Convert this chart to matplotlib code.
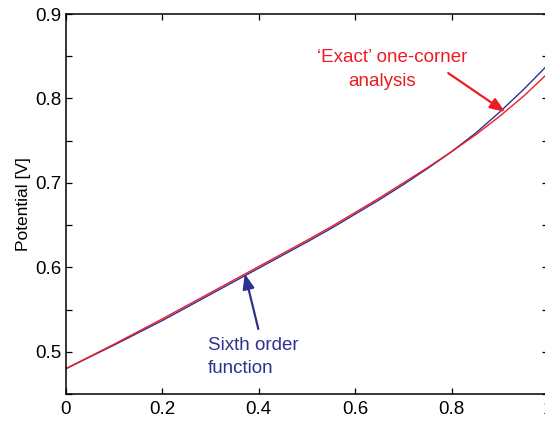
import matplotlib
matplotlib.use('Agg')
import matplotlib.pyplot as plt
from matplotlib.ticker import MultipleLocator

plt.rcParams['font.family'] = ['Liberation Sans', 'DejaVu Sans']

# distance along the edge (normalised) and computed potential
position = [0.00, 0.05, 0.10, 0.15, 0.20, 0.25, 0.30, 0.35, 0.40, 0.45, 0.50,
            0.55, 0.60, 0.65, 0.70, 0.75, 0.80, 0.85, 0.90, 0.95, 1.00]
exact_one_corner = [0.480, 0.4945, 0.509, 0.524, 0.539, 0.5545, 0.570, 0.5855,
                    0.601, 0.6165, 0.632, 0.648, 0.665, 0.682, 0.700, 0.718,
                    0.737, 0.757, 0.779, 0.803, 0.830]
sixth_order = [0.480, 0.494, 0.508, 0.5225, 0.537, 0.5525, 0.568, 0.5835,
               0.599, 0.6145, 0.630, 0.646, 0.663, 0.680, 0.698, 0.717,
               0.737, 0.759, 0.784, 0.811, 0.840]

x_ticks = [0, 0.2, 0.4, 0.6, 0.8, 1]
y_ticks = [0.5, 0.6, 0.7, 0.8, 0.9]

RED = '#ed1c24'
BLUE = '#2e3192'


def main():
  fig = plt.figure(figsize=(5.45, 4.23), dpi=100)
  ax = fig.add_axes([0.1211, 0.0686, 0.8844, 0.8983])

  ax.plot(position, sixth_order, color=BLUE, lw=1.0)
  ax.plot(position, exact_one_corner, color=RED, lw=1.0)

  ax.set_xlim(0, 1)
  ax.set_ylim(0.45, 0.9)
  ax.set_xticks(x_ticks)
  ax.set_xticklabels(['0', '0.2', '0.4', '0.6', '0.8', '1'])
  ax.set_yticks(y_ticks)
  ax.yaxis.set_minor_locator(MultipleLocator(0.05))
  ax.tick_params(axis='both', which='both', direction='in', top=True, right=True,
                 length=4, width=0.9, labelsize=13.5)
  ax.tick_params(axis='x', pad=5)
  ax.tick_params(axis='y', pad=3)
  for s in ax.spines.values():
    s.set_linewidth(1.1)

  ax.set_ylabel('Potential [V]', fontsize=12.5, labelpad=3)

  ax.annotate('', xy=(0.911, 0.784), xytext=(0.793, 0.830),
              arrowprops=dict(arrowstyle='-|>,head_length=0.9,head_width=0.35',
                              color=RED, lw=1.6, shrinkA=0, shrinkB=0))
  ax.text(0.676, 0.849, '\u2018Exact\u2019 one-corner', color=RED, fontsize=13.5,
          ha='center', va='center')
  ax.text(0.656, 0.8205, 'analysis', color=RED, fontsize=13.5,
          ha='center', va='center')

  ax.annotate('', xy=(0.371, 0.5924), xytext=(0.399, 0.527),
              arrowprops=dict(arrowstyle='-|>,head_length=0.9,head_width=0.35',
                              color=BLUE, lw=1.6, shrinkA=0, shrinkB=0))
  ax.text(0.295, 0.5076, 'Sixth order', color=BLUE, fontsize=13.5,
          ha='left', va='center')
  ax.text(0.295, 0.4798, 'function', color=BLUE, fontsize=13.5,
          ha='left', va='center')

  fig.savefig('out.png', dpi=100)


if __name__ == '__main__':
  main()
